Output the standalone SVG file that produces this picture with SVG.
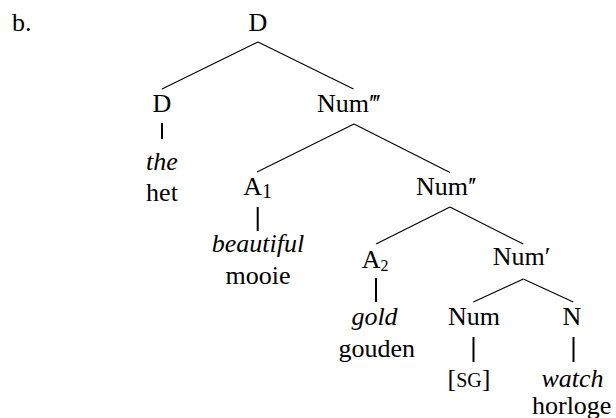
<svg xmlns="http://www.w3.org/2000/svg" width="616" height="418" viewBox="0 0 616 418" font-family="Liberation Serif, Times New Roman, serif" font-size="26">
<style>
text{font-family:"Liberation Serif","Times New Roman",serif;font-size:26px;fill:#000}
.m{text-anchor:middle}
.i{font-style:italic}
.br{stroke:#000;stroke-width:1.1;fill:none}
.vt{stroke:#000;stroke-width:2;fill:none}
.pr{letter-spacing:-2.5px}
</style>
<rect width="616" height="418" fill="#fff"/>
<text x="12" y="30.5">b.</text>
<g id="connectors">
<line class="br" x1="258" y1="42" x2="162" y2="89"/>
<line class="br" x1="258" y1="42" x2="353.5" y2="89"/>
<line class="vt" x1="162" y1="123" x2="162" y2="139"/>
<line class="br" x1="354" y1="124" x2="257" y2="172"/>
<line class="br" x1="354" y1="124" x2="450" y2="172.5"/>
<line class="vt" x1="257.7" y1="207" x2="257.7" y2="231"/>
<line class="br" x1="450" y1="207" x2="376" y2="244"/>
<line class="br" x1="450" y1="207" x2="523.3" y2="244"/>
<line class="vt" x1="376" y1="278" x2="376" y2="302"/>
<line class="br" x1="523.3" y1="279" x2="473.3" y2="302"/>
<line class="br" x1="523.3" y1="279" x2="573.3" y2="302"/>
<line class="vt" x1="473.5" y1="337" x2="473.5" y2="362"/>
<line class="vt" x1="573.5" y1="337" x2="573.5" y2="362"/>
</g>
<g id="root-D"><text class="m" x="258" y="31">D</text></g>
<g id="D"><text class="m" x="162" y="112">D</text></g>
<g id="the-het"><text class="m i" x="162" y="170">the</text><text class="m" x="162" y="201">het</text></g>
<g id="Num3"><text x="317" y="112">Num<tspan class="pr">′′′</tspan></text></g>
<g id="A1"><text x="243.3" y="195">A<tspan font-size="20" y="198">1</tspan></text></g>
<g id="beautiful-mooie"><text class="m i" x="258" y="252">beautiful</text><text class="m" x="258" y="284">mooie</text></g>
<g id="Num2"><text x="416" y="195">Num<tspan class="pr">′′</tspan></text></g>
<g id="A2"><text x="361.7" y="268">A<tspan font-size="16" y="271">2</tspan></text></g>
<g id="gold-gouden"><text class="m i" x="374.5" y="325">gold</text><text class="m" x="376.7" y="356.7">gouden</text></g>
<g id="Num1"><text x="492.7" y="265">Num′</text></g>
<g id="Num"><text class="m" x="474" y="325">Num</text></g>
<g id="SG"><text class="m" x="469" y="386.7">[<tspan font-size="20">SG</tspan>]</text></g>
<g id="N"><text class="m" x="572" y="325">N</text></g>
<g id="watch-horloge"><text class="m i" x="572.5" y="386.7">watch</text><text class="m" x="571.7" y="414">horloge</text></g>
</svg>
